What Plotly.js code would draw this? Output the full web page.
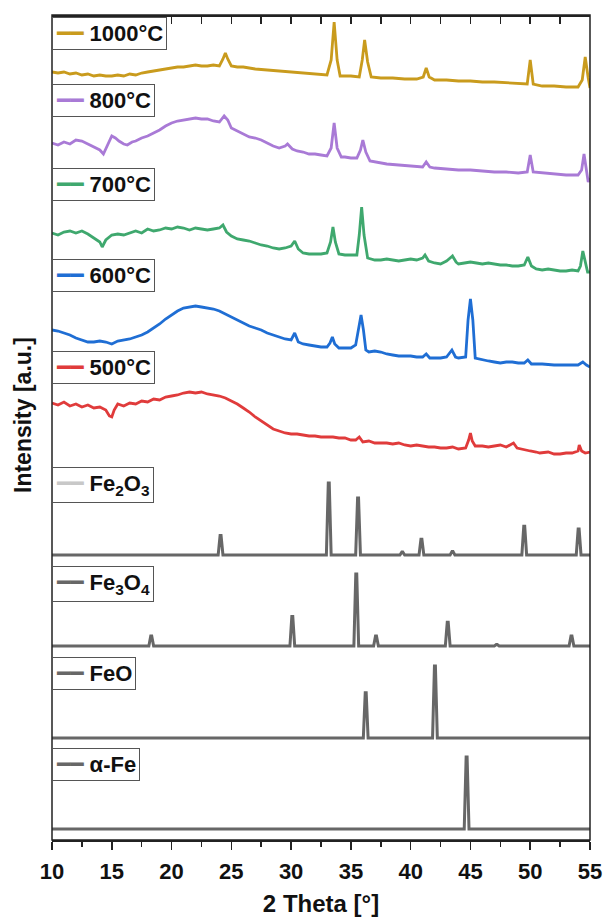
<!DOCTYPE html>
<html>
<head>
<meta charset="utf-8">
<script src="https://cdn.plot.ly/plotly-3.0.1.min.js"></script>
<style>html,body{margin:0;padding:0;background:#fff;}#chart{width:604px;height:917px;}</style>
</head>
<body>
<div id="chart"></div>
<script>
// ---- Data (2 Theta in degrees, intensity in arbitrary units) ----
const x1000 = [10,10.5,11,11.5,12,12.5,13,13.5,14,14.5,15,15.5,16,16.5,17,17.5,18,18.5,19,19.5,20,20.5,21,21.5,22,22.5,23,23.5,24,24.3,24.5,24.7,25,25.5,26,27,28,29,30,31,32,33,33.35,33.6,33.85,34.1,35,35.7,35.95,36.15,36.4,36.7,37.5,38.5,39.5,40.5,41.05,41.3,41.55,42,43,44,45,46,47,48,49,49.75,50,50.25,51,52,53,54,54.35,54.6,54.85,55];
const y1000 = [28,27,28,26,27,25,26,24,25,24,24,25,24,26,25,27,28,29,30,31,32,33,33,34,35,34,34,35,34,41,47,41,34,33,33,31,30,29,28,27,26,25,40,78,40,24,24,23,40,60,38,23,22,22,21,21,23,32,23,20,20,19,19,18,18,17,16,16,40,16,14,14,13,13,20,43,22,12];

const x800 = [10,10.5,11,11.5,12,12.5,13,13.5,14,14.3,14.6,15,15.3,15.6,16,16.3,16.7,17,17.5,18,18.5,19,19.5,20,20.5,21,21.5,22,22.5,23,23.5,24,24.4,24.7,25,25.5,26,26.5,27,27.5,28,28.5,29,29.5,29.7,30.1,30.5,31,31.5,32,32.5,33,33.35,33.6,33.85,34.2,34.5,35,35.5,35.8,36,36.25,36.6,37,38,39,40,41,41.3,41.6,42,43,44,45,46,47,48,49,49.75,50,50.25,51,52,53,54,54.3,54.5,54.7,54.85,55];
const y800 = [47,45,48,46,50,49,46,43,40,36,44,54,52,49,46,45,48,49,52,54,57,60,64,67,69,70,71,72,71,71,69,68,74,70,62,59,56,53,52,50,47,44,42,44,46,41,39,38,36,36,35,34,42,67,42,33,33,32,32,40,50,38,29,28,26,25,24,23,28,23,22,21,20,20,19,18,18,17,18,35,18,17,16,15,15,20,36,20,8,12];

const x700 = [10,10.5,11,11.5,12,12.5,13,13.5,14,14.2,14.5,15,15.5,16,16.5,17,17.5,18,18.5,19,19.5,20,20.5,21,21.5,22,22.5,23,23.5,24,24.3,24.6,25,25.5,26,26.5,27,27.5,28,28.5,29,29.5,30,30.3,30.6,31,31.5,32,32.5,33,33.3,33.5,33.7,34,34.5,35,35.5,35.7,35.9,36.1,36.4,37,37.5,38,38.5,39,39.5,40,40.5,41,41.2,41.5,42,42.5,43,43.5,43.8,44,44.5,45,45.5,46,46.5,47,47.5,48,48.5,49,49.5,49.8,50.1,50.5,51,51.5,52,52.5,53,53.5,54,54.2,54.4,54.6,54.8,55];
const y700 = [47,45,48,49,47,49,46,42,38,33,40,45,46,45,47,49,47,51,49,50,52,51,53,52,50,52,51,50,51,52,55,48,44,41,40,39,37,35,34,32,31,32,34,39,31,27,26,26,26,27,38,53,38,26,25,25,25,45,73,45,22,20,20,21,20,19,20,21,20,22,25,19,17,16,19,24,18,16,17,18,17,16,17,16,15,15,14,14,15,23,14,11,10,11,10,9,9,10,9,14,29,18,8,8];

const x600 = [10,10.5,11,11.5,12,12.5,13,13.5,14,14.5,15,15.5,16,16.5,17,17.5,18,18.5,19,19.5,20,20.5,21,21.5,22,22.5,23,23.5,24,24.5,25,25.5,26,26.5,27,27.5,28,28.5,29,29.5,30,30.3,30.6,31,31.5,32,32.5,33,33.25,33.45,33.65,34,34.5,35,35.4,35.6,35.85,36.05,36.25,36.5,37,37.5,38,38.5,39,39.5,40,40.5,41,41.3,41.6,42,42.5,43,43.45,43.75,44,44.6,44.8,45,45.2,45.4,46,46.5,47,47.5,48,48.5,49,49.5,49.8,50.1,51,52,53,54,54.4,54.7,55];
const y600 = [42,41,39,37,34,32,30,30,31,30,28,31,32,33,35,37,40,44,48,53,57,61,64,65,66,65,64,63,61,58,55,52,49,46,44,42,39,37,35,33,32,39,30,28,27,26,25,25,29,35,28,24,24,24,27,42,57,42,22,20,21,20,18,17,16,16,16,15,15,18,14,14,14,15,22,15,14,15,52,73,52,14,12,11,10,9,10,10,9,9,12,8,8,7,7,7,10,7,5];

const x500 = [10,10.5,11,11.5,12,12.5,13,13.5,14,14.5,14.8,15,15.2,15.5,16,16.5,17,17.5,18,18.5,19,19.5,20,20.5,21,21.5,22,22.5,23,23.5,24,24.5,25,25.5,26,26.5,27,27.5,28,28.5,29,29.5,30,30.5,31,31.5,32,32.5,33,33.5,34,34.5,35,35.4,35.7,36,36.5,37,37.5,38,38.5,39,39.5,40,40.5,41,41.5,42,42.5,43,43.5,44,44.6,44.85,45,45.15,45.4,46,46.5,47,47.5,48,48.6,48.9,49.5,50,50.5,50.8,51.5,52,52.5,53,53.5,54,54.1,54.3,54.6,55];
const y500 = [59,57,60,56,58,55,57,54,55,52,46,45,52,58,56,59,58,61,60,63,62,65,66,67,69,70,69,70,68,67,66,64,61,58,54,50,45,41,37,33,31,29,28,28,27,26,26,25,25,25,24,24,22,22,25,20,21,19,19,19,18,19,17,16,17,16,15,15,14,14,15,13,14,22,29,21,16,16,15,16,17,15,19,14,12,11,10,9,10,8,8,9,9,11,17,11,9,10];

// Reference patterns: peak positions (2 Theta) and relative intensities (%)
const fe2o3Pos = [24.1, 33.15, 35.6, 39.3, 40.9, 43.5, 49.5, 54.05];
const fe2o3Int = [27, 100, 79, 4, 22, 5, 40, 36];
const fe3o4Pos = [18.3, 30.1, 35.45, 37.1, 43.1, 47.2, 53.45];
const fe3o4Int = [14, 41, 100, 14, 33, 2, 14];
const feoPos = [36.24, 42.03];
const feoInt = [63, 100];
const alphaFePos = [44.68];
const alphaFeInt = [100];

const sampleNames = ['1000°C','800°C','700°C','600°C','500°C'];
const refNames = ['Fe<sub>2</sub>O<sub>3</sub>','Fe<sub>3</sub>O<sub>4</sub>','FeO','α-Fe'];
const xTicks = [10,15,20,25,30,35,40,45,50,55];

// ---- Layout helpers (pixel geometry of the stacked panels) ----
const PT = 15, PB = 840, PH = PB - PT;
const py2p = p => (PB - p) / PH;
function dom(topPx, botPx){ return [py2p(botPx), py2p(topPx)]; }
function hidden(extra){ return Object.assign({visible:false, showgrid:false, zeroline:false, fixedrange:true}, extra); }

// stick pattern -> line through library scale
function stickLine(pos, inten){
  const hw = 0.2;
  const xs = [10], ys = [0];
  pos.forEach((p,i)=>{ xs.push(p-hw, p-0.04, p+0.04, p+hw); ys.push(0, inten[i], inten[i], 0); });
  xs.push(55); ys.push(0);
  return {xs, ys};
}

const colors = ['#C99B1D','#A97AD6','#3FA86E','#1F6ED4','#E03B3B'];
const refColor = '#676767';
const refKeyColors = ['#c8c8c8', refColor, refColor, refColor];
const FONT = "Arial, 'Liberation Sans', Helvetica, 'DejaVu Sans', sans-serif";

const sampleX = [x1000,x800,x700,x600,x500];
const sampleY = [y1000,y800,y700,y600,y500];
const sampleBottomPx = [100,190,280,372,462];
const sampleKeyTopPx = [17,84,168,259,351];

const refPos = [fe2o3Pos, fe3o4Pos, feoPos, alphaFePos];
const refInt = [fe2o3Int, fe3o4Int, feoInt, alphaFeInt];
const refBasePx = [555,646,738,829];
const refKeyTopPx = [467,566,657,748];
const pxPerPct = 0.72;

const traces = [];
const annotations = [];
const layout = {
  width:604, height:917,
  margin:{l:52, r:14, t:15, b:77},
  paper_bgcolor:'#fff', plot_bgcolor:'rgba(0,0,0,0)',
  font:{family:FONT, color:'#111'},
  showlegend:false,
  xaxis:{range:[10,55], anchor:'free', position:0, tickvals:xTicks, ticks:'outside', ticklen:8, tickwidth:1.5,
         tickcolor:'#222', showline:true, linecolor:'#222', linewidth:1.5, showgrid:false, zeroline:false,
         ticklabelstandoff:3,
         minor:{dtick:2.5, tick0:10, ticks:'outside', ticklen:5, tickwidth:1.5, tickcolor:'#222'},
         tickfont:{size:22, family:FONT, weight:'bold', color:'#111'},
         title:{text:'2 Theta [°]', font:{size:24, family:FONT, weight:'bold', color:'#111'}, standoff:19}},
  xaxis2:{range:[10,55], overlaying:'x', side:'top', anchor:'free', position:1, dtick:2.5, tick0:10,
          ticks:'inside', ticklen:7, tickwidth:1.5, tickcolor:'#222', showticklabels:false,
          showline:true, linecolor:'#222', linewidth:1.5, showgrid:false, zeroline:false},
  shapes:[{type:'rect', xref:'paper', yref:'paper', x0:0, x1:1, y0:0, y1:1, line:{color:'#222', width:1.5}, layer:'above'}],
  annotations:annotations
};

annotations.push({text:'Intensity [a.u.]', xref:'paper', yref:'paper', x:(23-52)/538, y:py2p(415), textangle:-90,
                  showarrow:false, xanchor:'center', yanchor:'middle', font:{size:23, family:FONT, weight:'bold', color:'#111'}});

function keyBox(name, color, topPx){
  return {xref:'paper', yref:'paper', x:0, y:py2p(topPx), xanchor:'left', yanchor:'top', showarrow:false,
          align:'left', bgcolor:'#fff', bordercolor:'#555', borderwidth:1, borderpad:3,
          text:'<span style="color:'+color+'">━━</span> '+name,
          font:{size:22, family:FONT, weight:'bold', color:'#111'}};
}

let axisIdx = 1;
sampleNames.forEach((name,i)=>{
  const yid = axisIdx === 1 ? 'y' : 'y'+axisIdx;
  const yk = axisIdx === 1 ? 'yaxis' : 'yaxis'+axisIdx;
  const b = sampleBottomPx[i];
  layout[yk] = hidden({domain:dom(b-85, b), range:[0,85]});
  annotations.push(keyBox(name, colors[i], sampleKeyTopPx[i]));
  traces.push({type:'scatter', mode:'lines', x:sampleX[i], y:sampleY[i], name:name,
               xaxis: i===0 ? 'x2' : 'x', yaxis:yid,
               line:{color:colors[i], width:2.8}, hoverinfo:'skip'});
  axisIdx++;
});

refNames.forEach((name,i)=>{
  const yid = 'y'+axisIdx, yk = 'yaxis'+axisIdx;
  const B = refBasePx[i];
  layout[yk] = hidden({domain:dom(B-88, B+5), range:[-5/pxPerPct, 88/pxPerPct]});
  annotations.push(keyBox(name, refKeyColors[i], refKeyTopPx[i]));
  const s = stickLine(refPos[i], refInt[i]);
  traces.push({type:'scatter', mode:'lines', x:s.xs, y:s.ys, name:name, xaxis:'x', yaxis:yid,
               line:{color:refColor, width:3}, hoverinfo:'skip'});
  axisIdx++;
});

Plotly.newPlot('chart', traces, layout, {displayModeBar:false, staticPlot:true});
</script>
</body>
</html>
